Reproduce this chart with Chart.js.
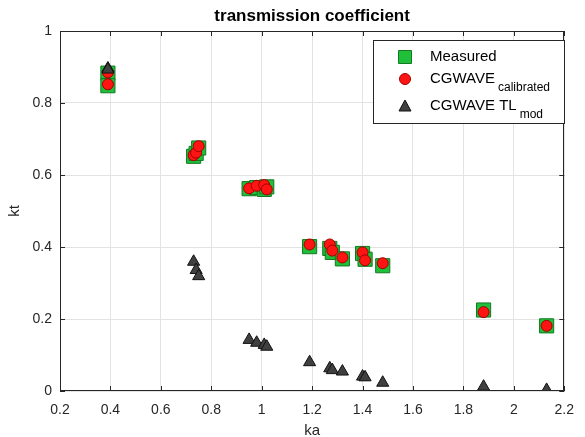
<!DOCTYPE html>
<html>
<head>
<meta charset="utf-8">
<script src="https://cdn.jsdelivr.net/npm/chart.js@4.4.1/dist/chart.umd.min.js"></script>
<style>
  html, body { margin: 0; padding: 0; background: #fff; }
  #wrap { width: 585px; height: 437px; }
</style>
</head>
<body>
<div id="wrap"><canvas id="ktChart" width="585" height="437"></canvas></div>
<script>
// valores
const ka = [0.39, 0.39, 0.73, 0.74, 0.75, 0.95, 0.98, 1.01, 1.02, 1.19, 1.27, 1.28, 1.32, 1.40, 1.41, 1.48, 1.88, 2.13];
const measured = [0.883, 0.848, 0.652, 0.660, 0.675, 0.562, 0.565, 0.560, 0.567, 0.401, 0.396, 0.385, 0.367, 0.382, 0.366, 0.348, 0.225, 0.181];
const calibrated = [0.885, 0.852, 0.655, 0.662, 0.680, 0.563, 0.570, 0.572, 0.560, 0.407, 0.407, 0.390, 0.371, 0.385, 0.363, 0.355, 0.219, 0.181];
const tlMod = [0.896, 0.893, 0.359, 0.336, 0.319, 0.142, 0.134, 0.128, 0.123, 0.080, 0.063, 0.058, 0.054, 0.040, 0.038, 0.023, 0.012, 0.003];

const xTicks = [0.2, 0.4, 0.6, 0.8, 1, 1.2, 1.4, 1.6, 1.8, 2, 2.2];
const yTicks = [0, 0.2, 0.4, 0.6, 0.8, 1];

const titleText = 'transmission coefficient';
const xLabel = 'ka';
const yLabel = 'kt';
const legendItems = [
  { main: 'Measured', sub: '' },
  { main: 'CGWAVE', sub: 'calibrated' },
  { main: 'CGWAVE TL', sub: 'mod' }
];

const FONT = "'Liberation Sans', Arial, sans-serif";
const INK = '#262626';

const GREEN = '#1fbf3a', GREEN_EDGE = '#137a22';
const RED = '#ff1414', RED_EDGE = '#a30000';
const GRAY = '#404040', GRAY_EDGE = '#111111';

const toPoints = (ys) => ka.map((x, i) => ({ x: x, y: ys[i] }));

// desenha título, rótulos, moldura estilo MATLAB e legenda com subscrito
const matlabDecor = {
  id: 'matlabDecor',
  afterDraw(chart) {
    const { ctx, chartArea: a, scales } = chart;
    ctx.save();

    // moldura
    ctx.strokeStyle = INK;
    ctx.lineWidth = 1;
    ctx.strokeRect(Math.round(a.left) + 0.5, Math.round(a.top) + 0.5,
      Math.round(a.right - a.left) - 1, Math.round(a.bottom - a.top) - 1);

    // marcas para dentro
    const tl = 5;
    ctx.beginPath();
    xTicks.forEach(v => {
      const px = Math.round(scales.x.getPixelForValue(v)) + 0.5;
      ctx.moveTo(px, a.bottom); ctx.lineTo(px, a.bottom - tl);
      ctx.moveTo(px, a.top); ctx.lineTo(px, a.top + tl);
    });
    yTicks.forEach(v => {
      const py = Math.round(scales.y.getPixelForValue(v)) + 0.5;
      ctx.moveTo(a.left, py); ctx.lineTo(a.left + tl, py);
      ctx.moveTo(a.right, py); ctx.lineTo(a.right - tl, py);
    });
    ctx.stroke();

    // título
    ctx.fillStyle = '#000';
    ctx.textAlign = 'center';
    ctx.textBaseline = 'middle';
    ctx.font = 'bold 17px ' + FONT;
    ctx.fillText(titleText, (a.left + a.right) / 2, 16);

    // rótulos dos eixos
    ctx.fillStyle = INK;
    ctx.font = '15px ' + FONT;
    ctx.fillText(xLabel, (a.left + a.right) / 2, 431);
    ctx.save();
    ctx.translate(15, (a.top + a.bottom) / 2);
    ctx.rotate(-Math.PI / 2);
    ctx.fillText(yLabel, 0, 0);
    ctx.restore();

    // legenda
    const bx = 373, by = 40, bw = 191, bh = 83;
    ctx.fillStyle = '#fff';
    ctx.fillRect(bx, by, bw, bh);
    ctx.strokeStyle = INK;
    ctx.strokeRect(bx + 0.5, by + 0.5, bw, bh);

    const rows = [57, 79, 106];
    const styles = chart.data.datasets;
    legendItems.forEach((item, i) => {
      const ds = styles[i];
      ctx.fillStyle = ds.backgroundColor;
      ctx.strokeStyle = ds.borderColor;
      ctx.lineWidth = ds.borderWidth;
      ctx.beginPath();
      if (ds.pointStyle === 'rect') {
        const s = 6.5;
        ctx.rect(405 - s, rows[i] - s, 2 * s, 2 * s);
      } else if (ds.pointStyle === 'circle') {
        ctx.arc(405, rows[i], 5.5, 0, Math.PI * 2);
      } else {
        ctx.moveTo(405, rows[i] - 6);
        ctx.lineTo(411, rows[i] + 5);
        ctx.lineTo(399, rows[i] + 5);
        ctx.closePath();
      }
      ctx.fill();
      ctx.stroke();

      ctx.fillStyle = '#000';
      ctx.textAlign = 'left';
      ctx.textBaseline = 'middle';
      ctx.font = '15px ' + FONT;
      ctx.fillText(item.main, 430, rows[i]);
      if (item.sub) {
        const w = ctx.measureText(item.main).width;
        ctx.font = '12px ' + FONT;
        ctx.fillText(item.sub, 430 + w + 3, rows[i] + 9);
      }
    });

    ctx.restore();
  }
};

const chart = new Chart(document.getElementById('ktChart').getContext('2d'), {
  type: 'scatter',
  data: {
    datasets: [
      {
        label: 'Measured',
        data: toPoints(measured),
        pointStyle: 'rect',
        pointRadius: 10,
        pointHoverRadius: 10,
        backgroundColor: GREEN,
        borderColor: GREEN_EDGE,
        borderWidth: 1,
        order: 3
      },
      {
        label: 'CGWAVE calibrated',
        data: toPoints(calibrated),
        pointStyle: 'circle',
        pointRadius: 5.5,
        pointHoverRadius: 5.5,
        backgroundColor: RED,
        borderColor: RED_EDGE,
        borderWidth: 1,
        order: 2
      },
      {
        label: 'CGWAVE TL mod',
        data: toPoints(tlMod),
        pointStyle: 'triangle',
        pointRadius: 7,
        pointHoverRadius: 7,
        backgroundColor: GRAY,
        borderColor: GRAY_EDGE,
        borderWidth: 1,
        order: 1
      }
    ]
  },
  options: {
    responsive: false,
    animation: false,
    devicePixelRatio: 1,
    layout: {
      padding: { top: 31, right: 11, left: 0, bottom: 0 }
    },
    plugins: {
      legend: { display: false },
      title: { display: false },
      tooltip: { enabled: false }
    },
    scales: {
      x: {
        type: 'linear',
        min: 0.2,
        max: 2.2,
        afterBuildTicks: (scale) => { scale.ticks = xTicks.map(v => ({ value: v })); },
        afterFit: (scale) => { scale.height = 46; },
        grid: { color: '#e3e3e3', drawTicks: false },
        border: { display: false },
        ticks: {
          padding: 11,
          color: INK,
          font: { size: 14, family: FONT },
          callback: (v) => String(+v.toFixed(1))
        }
      },
      y: {
        type: 'linear',
        min: 0,
        max: 1,
        afterBuildTicks: (scale) => { scale.ticks = yTicks.map(v => ({ value: v })); },
        afterFit: (scale) => { scale.width = 60; },
        grid: { color: '#e3e3e3', drawTicks: false },
        border: { display: false },
        ticks: {
          padding: 8,
          color: INK,
          font: { size: 14, family: FONT },
          callback: (v) => String(+v.toFixed(1))
        }
      }
    }
  },
  plugins: [matlabDecor]
});
</script>
</body>
</html>
